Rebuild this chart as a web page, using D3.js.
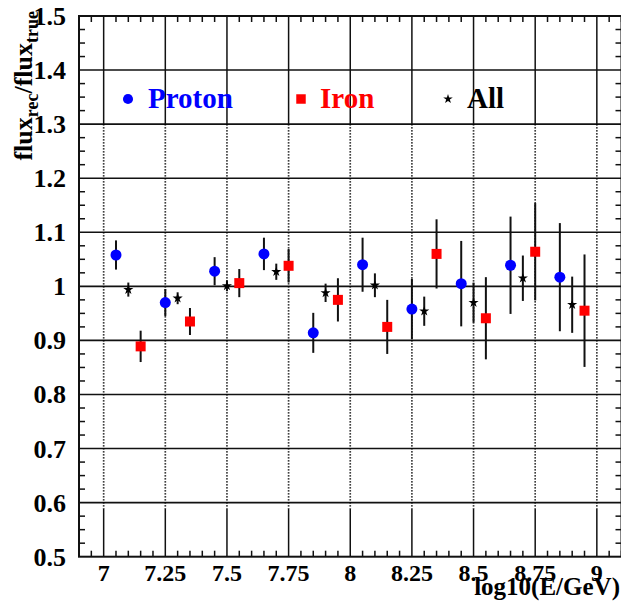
<!DOCTYPE html>
<html>
<head>
<meta charset="utf-8">
<script src="https://cdn.jsdelivr.net/npm/d3@7"></script>
<style>
  body { margin: 0; background: #fff; }
  text { font-family: "Liberation Serif", "DejaVu Serif", serif; font-weight: bold; }
</style>
</head>
<body>
<script>
// values
const protonE    = [7.05, 7.25, 7.45, 7.65, 7.85, 8.05, 8.25, 8.45, 8.65, 8.85];
const protonVal  = [1.058, 0.970, 1.028, 1.060, 0.914, 1.040, 0.958, 1.005, 1.039, 1.017];
const protonErr  = [0.027, 0.025, 0.026, 0.030, 0.037, 0.050, 0.056, 0.079, 0.090, 0.100];

const ironE      = [7.15, 7.35, 7.55, 7.75, 7.95, 8.15, 8.35, 8.55, 8.75, 8.95];
const ironVal    = [0.889, 0.935, 1.006, 1.038, 0.975, 0.925, 1.060, 0.941, 1.064, 0.955];
const ironErr    = [0.029, 0.025, 0.026, 0.031, 0.040, 0.050, 0.064, 0.076, 0.090, 0.104];

const allE       = [7.1, 7.3, 7.5, 7.7, 7.9, 8.1, 8.3, 8.5, 8.7, 8.9];
const allVal     = [0.994, 0.978, 1.001, 1.027, 0.988, 1.002, 0.954, 0.970, 1.015, 0.966];
const allErr     = [0.013, 0.011, 0.010, 0.015, 0.017, 0.022, 0.027, 0.037, 0.042, 0.052];

const xTicks = [7, 7.25, 7.5, 7.75, 8, 8.25, 8.5, 8.75, 9];
const xTickLabels = ["7", "7.25", "7.5", "7.75", "8", "8.25", "8.5", "8.75", "9"];
const yTicks = [0.5, 0.6, 0.7, 0.8, 0.9, 1, 1.1, 1.2, 1.3, 1.4, 1.5];
const yTickLabels = ["0.5", "0.6", "0.7", "0.8", "0.9", "1", "1.1", "1.2", "1.3", "1.4", "1.5"];

const W = 621, H = 603;
const padLeft = 79, padRight = 621.5, padTop = 16, padBottom = 556.7;

const svg = d3.select("body").append("svg")
    .attr("width", W)
    .attr("height", H);

const x = d3.scaleLinear().domain([6.9, 9.1]).range([padLeft, padRight]);
const y = d3.scaleLinear().domain([0.5, 1.5]).range([padBottom, padTop]);

// horizontal grid lines
svg.append("g").selectAll("line")
    .data(yTicks.slice(1, -1))
    .join("line")
    .attr("x1", padLeft).attr("x2", padRight)
    .attr("y1", d => y(d)).attr("y2", d => y(d))
    .attr("stroke", "#111").attr("stroke-width", 1.6);

// vertical grid: solid at top and bottom, dotted in the middle
const vg = svg.append("g");
vg.selectAll(".top").data(xTicks).join("line")
    .attr("class", "top")
    .attr("x1", d => x(d)).attr("x2", d => x(d))
    .attr("y1", padTop).attr("y2", y(1.3))
    .attr("stroke", "#111").attr("stroke-width", 1.5);
vg.selectAll(".mid").data(xTicks).join("line")
    .attr("class", "mid")
    .attr("x1", d => x(d)).attr("x2", d => x(d))
    .attr("y1", y(1.3)).attr("y2", y(0.6) + 6)
    .attr("stroke", "#000").attr("stroke-width", 1.7)
    .attr("stroke-dasharray", "1.4,1.6");
vg.selectAll(".bot").data(xTicks).join("line")
    .attr("class", "bot")
    .attr("x1", d => x(d)).attr("x2", d => x(d))
    .attr("y1", y(0.6) + 6).attr("y2", padBottom)
    .attr("stroke", "#111").attr("stroke-width", 1.5);

// minor ticks
const xMinor = d3.range(139, 183).filter(i => i % 5 !== 0).map(i => i * 0.05);
const yMinor = d3.range(20, 61).filter(i => i % 4 !== 0).map(i => i * 0.025);
const tk = svg.append("g").attr("stroke", "#111").attr("stroke-width", 1.5);
tk.selectAll(".xb").data(xMinor).join("line").attr("class", "xb")
    .attr("x1", d => x(d)).attr("x2", d => x(d))
    .attr("y1", padBottom).attr("y2", padBottom - 6);
tk.selectAll(".xt").data(xMinor).join("line").attr("class", "xt")
    .attr("x1", d => x(d)).attr("x2", d => x(d))
    .attr("y1", padTop).attr("y2", padTop + 6);
tk.selectAll(".yl").data(yMinor).join("line").attr("class", "yl")
    .attr("x1", padLeft).attr("x2", padLeft + 6)
    .attr("y1", d => y(d)).attr("y2", d => y(d));
tk.selectAll(".yr").data(yMinor).join("line").attr("class", "yr")
    .attr("x1", padRight).attr("x2", padRight - 6)
    .attr("y1", d => y(d)).attr("y2", d => y(d));

// frame
svg.append("rect")
    .attr("x", padLeft).attr("y", padTop)
    .attr("width", padRight - padLeft).attr("height", padBottom - padTop)
    .attr("fill", "none").attr("stroke", "#111").attr("stroke-width", 2);

// tick labels
svg.append("g").selectAll("text")
    .data(xTicks)
    .join("text")
    .attr("x", d => x(d)).attr("y", 581)
    .attr("text-anchor", "middle")
    .attr("font-size", 24)
    .text((d, i) => xTickLabels[i]);

svg.append("g").selectAll("text")
    .data(yTicks)
    .join("text")
    .attr("x", 66).attr("y", d => y(d) + 9)
    .attr("text-anchor", "end")
    .attr("font-size", 26)
    .text((d, i) => yTickLabels[i]);

// axis titles (overlaps the last tick labels, as in the original)
svg.append("text")
    .attr("x", 620).attr("y", 595)
    .attr("text-anchor", "end")
    .attr("font-size", 25)
    .text("log10(E/GeV)");

const yt = svg.append("text")
    .attr("transform", "translate(32,11) rotate(-90)")
    .attr("text-anchor", "end")
    .attr("font-size", 26);
yt.append("tspan").text("flux");
yt.append("tspan").attr("font-size", 18).attr("dy", 6).text("rec");
yt.append("tspan").attr("dy", -6).text("/flux");
yt.append("tspan").attr("font-size", 18).attr("dy", 6).text("true");

// series
const series = [
    { name: "Proton", e: protonE, v: protonVal, err: protonErr, color: "#0000ff", sym: d3.symbolCircle, size: 95, lsize: 80, lx: 128, tx: 148 },
    { name: "Iron", e: ironE, v: ironVal, err: ironErr, color: "#ff0000", sym: d3.symbolSquare, size: 100, lsize: 90, lx: 301, tx: 320 },
    { name: "All", e: allE, v: allVal, err: allErr, color: "#000000", sym: d3.symbolStar, size: 32, lsize: 28, lx: 448, tx: 467 }
];

series.forEach(s => {
    const pts = s.e.map((e, i) => ({ e: e, v: s.v[i], err: s.err[i] }));
    const g = svg.append("g");
    g.selectAll("line").data(pts).join("line")
        .attr("x1", d => x(d.e)).attr("x2", d => x(d.e))
        .attr("y1", d => y(d.v + d.err)).attr("y2", d => y(d.v - d.err))
        .attr("stroke", "#111").attr("stroke-width", 2);
    g.selectAll("path").data(pts).join("path")
        .attr("transform", d => `translate(${x(d.e)},${y(d.v)})`)
        .attr("d", d3.symbol(s.sym, s.size))
        .attr("fill", s.color);

    // legend entry
    svg.append("path")
        .attr("transform", `translate(${s.lx},99)`)
        .attr("d", d3.symbol(s.sym, s.lsize))
        .attr("fill", s.color);
    svg.append("text")
        .attr("x", s.tx).attr("y", 108)
        .attr("font-size", 29)
        .attr("fill", s.color)
        .text(s.name);
});
</script>
</body>
</html>
